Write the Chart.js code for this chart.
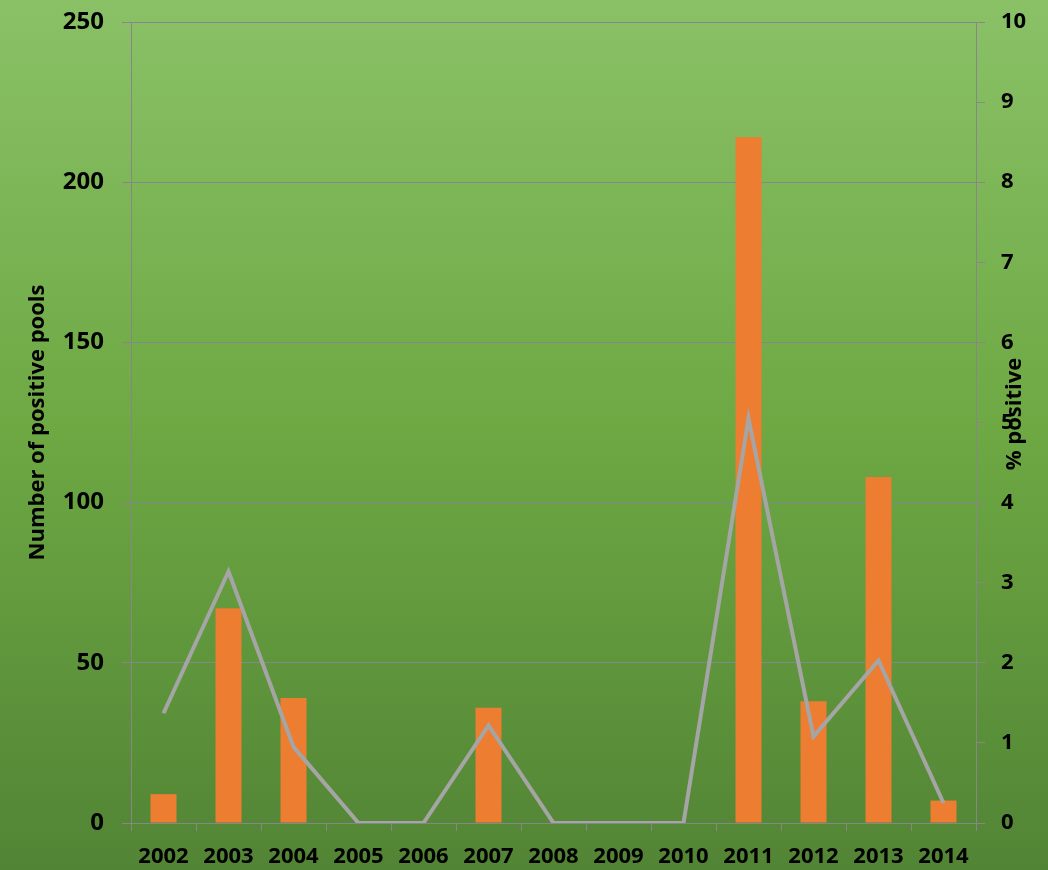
<!DOCTYPE html>
<html>
<head>
<meta charset="utf-8">
<script src="https://cdn.jsdelivr.net/npm/chart.js@4"></script>
<style>
  html, body { margin: 0; padding: 0; background: #6da843; }
  canvas { display: block; }
</style>
</head>
<body>
<canvas id="pools" width="1048" height="870"></canvas>
<script>
const years = ['2002','2003','2004','2005','2006','2007','2008','2009','2010','2011','2012','2013','2014'];
const positivePools = [9, 67, 39, 0, 0, 36, 0, 0, 0, 214, 38, 108, 7];
const percentPositive = [1.37, 3.14, 0.95, 0, 0, 1.22, 0, 0, 0, 5.05, 1.08, 2.03, 0.25];
const leftTicks = [0, 50, 100, 150, 200, 250];
const rightTicks = [0, 1, 2, 3, 4, 5, 6, 7, 8, 9, 10];

const gridGray = '#878787';
const fontFamily = "'Open Sans'";

// green gradient behind everything + rotated axis titles
const bgPlugin = {
  id: 'bg',
  beforeDraw(chart) {
    const c = chart.ctx;
    const g = c.createLinearGradient(0, 0, 0, chart.height);
    g.addColorStop(0, '#8ac167');
    g.addColorStop(0.5, '#6da843');
    g.addColorStop(1, '#528435');
    c.save();
    c.fillStyle = g;
    c.fillRect(0, 0, chart.width, chart.height);
    c.restore();
  },
  afterDraw(chart) {
    const c = chart.ctx;
    const area = chart.chartArea;
    const midY = (area.top + area.bottom) / 2;
    c.save();
    c.fillStyle = '#000';
    c.font = 'bold 22px ' + fontFamily;
    c.textAlign = 'center';
    c.textBaseline = 'middle';
    c.translate(38, midY);
    c.rotate(-Math.PI / 2);
    c.fillText('Number of positive pools', 0, 0);
    c.restore();
    c.save();
    c.fillStyle = '#000';
    c.font = 'bold 22px ' + fontFamily;
    c.textAlign = 'center';
    c.textBaseline = 'middle';
    c.translate(1015, 414);
    c.rotate(-Math.PI / 2);
    c.fillText('% positive', 0, 0);
    c.restore();
  }
};

function noPad(scale) {
  scale.paddingTop = 0;
  scale.paddingBottom = 0;
}

let myChart = null;

function drawChart(){
  if(myChart != null){
    myChart.destroy();
  }
  const ctx = document.getElementById('pools');

  myChart = new Chart(ctx, {
    data: {
      labels: years,
      datasets: [{
        type: 'line',
        data: percentPositive,
        yAxisID: 'y2',
        borderColor: '#a5a5a5',
        borderWidth: 4,
        pointRadius: 0,
        tension: 0,
        order: 0,
      }, {
        type: 'bar',
        data: positivePools,
        yAxisID: 'y',
        backgroundColor: '#ed7d31',
        barPercentage: 0.4,
        categoryPercentage: 1,
        order: 1,
      }],
    },
    options: {
      responsive: false,
      animation: false,
      layout: { padding: { top: 22, left: 0, right: 0, bottom: 0 } },
      plugins: {
        legend: { display: false },
        tooltip: { enabled: false },
      },
      scales: {
        x: {
          offset: true,
          grid: {
            offset: true,
            drawOnChartArea: false,
            drawTicks: true,
            tickLength: 8,
            color: gridGray,
          },
          border: { display: false },
          ticks: {
            color: '#000',
            font: { family: fontFamily, weight: 'bold', size: 22 },
            padding: 13,
            maxRotation: 0,
            autoSkip: false,
          },
          afterFit(scale) {
            scale.height = 47;
            scale.paddingLeft = 0;
            scale.paddingRight = 0;
          },
        },
        y: {
          position: 'left',
          min: 0,
          max: 250,
          afterBuildTicks(scale) { scale.ticks = leftTicks.map(v => ({ value: v })); },
          grid: {
            color: gridGray,
            tickLength: 9,
          },
          border: { color: gridGray, width: 1 },
          ticks: {
            color: '#000',
            font: { family: fontFamily, weight: 'bold', size: 24 },
            padding: 18,
          },
          afterFit(scale) { scale.width = 131; noPad(scale); },
        },
        y2: {
          position: 'right',
          min: 0,
          max: 10,
          afterBuildTicks(scale) { scale.ticks = rightTicks.map(v => ({ value: v })); },
          grid: {
            drawOnChartArea: false,
            color: gridGray,
            tickLength: 9,
          },
          border: { color: gridGray, width: 1 },
          ticks: {
            color: '#000',
            font: { family: fontFamily, weight: 'bold', size: 22 },
            padding: 16,
          },
          afterFit(scale) { scale.width = 72; noPad(scale); },
        },
      },
    },
    plugins: [bgPlugin],
  });
}

drawChart();
</script>
</body>
</html>
